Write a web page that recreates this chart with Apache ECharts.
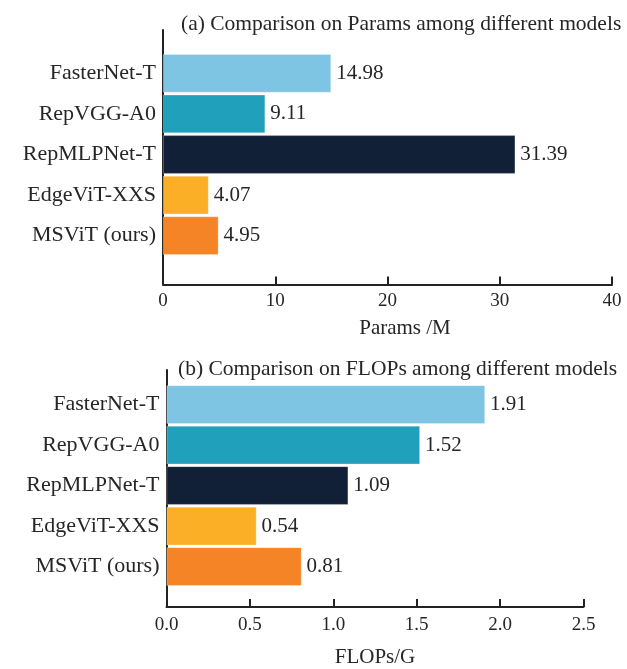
<!DOCTYPE html>
<html>
<head>
<meta charset="utf-8">
<script src="https://cdn.jsdelivr.net/npm/echarts@6/dist/echarts.min.js"></script>
<style>
  html, body { margin: 0; padding: 0; background: #ffffff; }
  #chart { width: 627px; height: 669px; }
</style>
</head>
<body>
<div id="chart"></div>
<script>
// Models compared in both panels (top to bottom)
const models = ['FasterNet-T', 'RepVGG-A0', 'RepMLPNet-T', 'EdgeViT-XXS', 'MSViT (ours)'];
// Parameter counts in millions
const paramsM = [14.98, 9.11, 31.39, 4.07, 4.95];
// Computational cost in GFLOPs
const flopsG = [1.91, 1.52, 1.09, 0.54, 0.81];
// One colour per model
const modelColors = ['#7dc5e2', '#21a0bb', '#112036', '#fbaf27', '#f58426'];
// Axis ranges and tick steps
const paramsAxis = { min: 0, max: 40, interval: 10 };
const flopsAxis = { min: 0, max: 2.5, interval: 0.5 };
const panelTitles = [
  '(a) Comparison on Params among different models',
  '(b) Comparison on FLOPs among different models'
];
const axisNames = ['Params /M', 'FLOPs/G'];

const FONT = "'Liberation Serif', 'Times New Roman', serif";
const INK = '#262626';
const AXIS = '#222222';

const chart = echarts.init(document.getElementById('chart'), null, { renderer: 'canvas' });

function barData(values) {
  return values.map((v, i) => ({ value: v, itemStyle: { color: modelColors[i] } }));
}

// frame grids carry the axis lines and ticks; bar grids carry the categories
const grids = [
  { left: 163, top: 30, width: 449, height: 254.5 },     // 0: frame (a)
  { left: 163, top: 53, width: 449, height: 203 },       // 1: bars (a)
  { left: 166.5, top: 370, width: 417, height: 244.7 },  // 2: frame (b)
  { left: 166.5, top: 384.3, width: 417, height: 202.5 } // 3: bars (b)
];

function frameX(gridIndex, range, name, nameGap, decimals, namePad, labelMargin) {
  return {
    type: 'value', gridIndex, min: range.min, max: range.max, interval: range.interval,
    name, nameLocation: 'middle', nameGap,
    nameTextStyle: { fontFamily: FONT, fontSize: 21, color: INK, padding: namePad },
    axisLine: { show: true, onZero: false, lineStyle: { color: AXIS, width: 2 } },
    axisTick: { show: true, inside: true, length: 8, lineStyle: { color: AXIS, width: 2 } },
    axisLabel: {
      fontFamily: FONT, fontSize: 19, color: INK, margin: labelMargin,
      formatter: v => v.toFixed(decimals)
    },
    splitLine: { show: false }
  };
}
function hiddenX(gridIndex, range) {
  return { type: 'value', gridIndex, min: range.min, max: range.max, show: false };
}
function frameY(gridIndex) {
  return {
    type: 'value', gridIndex, min: 0, max: 1,
    axisLine: { show: true, lineStyle: { color: AXIS, width: 2 } },
    axisTick: { show: false }, axisLabel: { show: false }, splitLine: { show: false }
  };
}
function categoryY(gridIndex) {
  return {
    type: 'category', gridIndex, data: models, inverse: true,
    axisLine: { show: false }, axisTick: { show: false },
    axisLabel: { fontFamily: FONT, fontSize: 22, color: INK, margin: 7 }
  };
}
function barSeries(xIdx, yIdx, values) {
  return {
    type: 'bar', xAxisIndex: xIdx, yAxisIndex: yIdx,
    data: barData(values), barWidth: 38.6,
    itemStyle: { borderColor: 'rgba(255,255,255,0.35)', borderWidth: 0.8 },
    label: {
      show: true, position: 'right', distance: 5,
      fontFamily: FONT, fontSize: 21, color: INK,
      formatter: p => p.value.toFixed(2)
    },
    silent: true, animation: false
  };
}

chart.setOption({
  animation: false,
  backgroundColor: '#ffffff',
  title: [
    { text: panelTitles[0], left: 181, top: 13, padding: 0,
      textStyle: { fontFamily: FONT, fontSize: 21.5, fontWeight: 'normal', color: INK } },
    { text: panelTitles[1], left: 178, top: 358, padding: 0,
      textStyle: { fontFamily: FONT, fontSize: 21.5, fontWeight: 'normal', color: INK } }
  ],
  grid: grids,
  xAxis: [
    frameX(0, paramsAxis, axisNames[0], 33, 0, [0, 0, 0, 35], 7),
    hiddenX(1, paramsAxis),
    frameX(2, flopsAxis, axisNames[1], 40, 1, 0, 9),
    hiddenX(3, flopsAxis)
  ],
  yAxis: [frameY(0), categoryY(1), frameY(2), categoryY(3)],
  series: [
    barSeries(1, 1, paramsM),
    barSeries(3, 3, flopsG)
  ]
});
</script>
</body>
</html>
